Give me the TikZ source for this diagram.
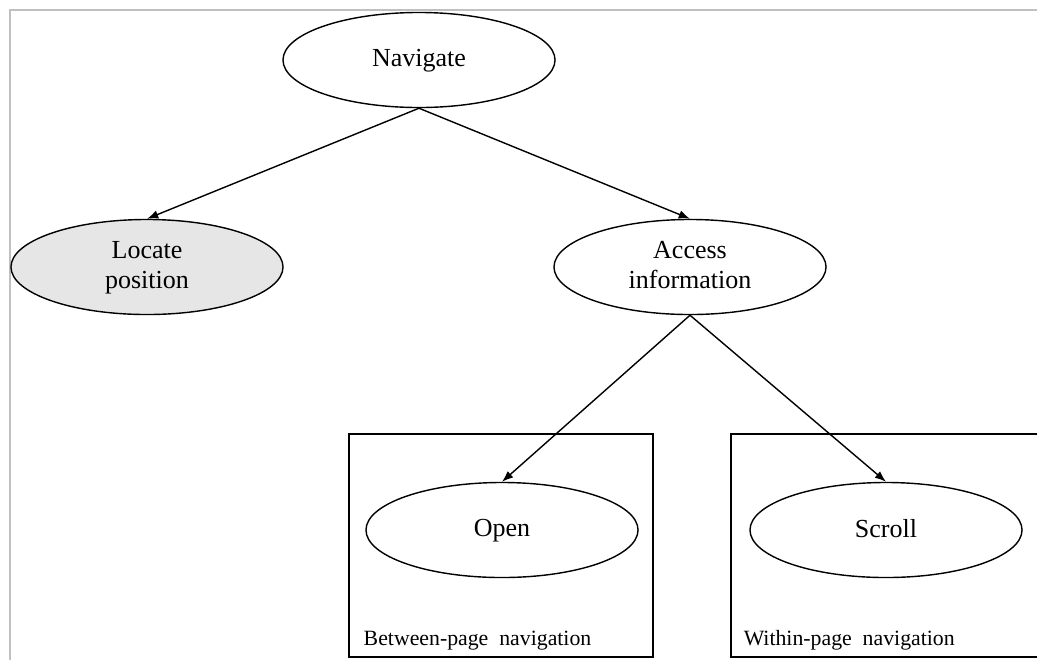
\documentclass[tikz,border=0pt]{standalone}
\usepackage{fontspec}
\setmainfont{Liberation Serif}
\usepackage{tikz}
\usetikzlibrary{shapes.geometric, arrows.meta, positioning}
\usepackage{xcolor}
\definecolor{cShade}{RGB}{230,230,230}
\definecolor{cFrame}{RGB}{192,192,192}
\tikzset{
  taskbase/.style={ellipse, draw=black, line width=1pt, align=center,
                   font=\fontsize{18.5}{21.5}\selectfont, text depth=0.25em,
                   minimum width=6.8cm, minimum height=2.375cm, inner sep=0pt},
  tasknode/.style={taskbase, fill=white},
  shadenode/.style={taskbase, fill=cShade},
  groupbox/.style={rectangle, draw=black, line width=1pt, inner sep=0pt},
  grouplabel/.style={inner sep=0pt, font=\fontsize{15.5}{18}\selectfont},
  arrow/.style={-{Latex[length=8pt, width=6pt]}, line width=1pt, color=black}
}

\begin{document}
\begin{tikzpicture}[x=0.025cm, y=-0.025cm]

  % Frame
  \useasboundingbox (0,0) rectangle (1037,660);
  \draw[cFrame, line width=1pt] (10,660) -- (10,10) -- (1037,10);

  % Groups
  \node[groupbox, minimum width=7.6cm, minimum height=5.575cm] (between) at (501,545.5) {};
  \node[groupbox, minimum width=7.75cm, minimum height=5.575cm] (within) at (886,545.5) {};
  \node[grouplabel, above right=0.17cm and 0.38cm of between.south west, anchor=south west]
      (betweenlbl) {Between-page\ \ navigation};
  \node[grouplabel, above right=0.17cm and 0.33cm of within.south west, anchor=south west]
      (withinlbl) {Within-page\ \ navigation};

  % Tasks
  \node[tasknode] (nav) at (419,60) {Navigate};
  \node[shadenode] (locate) at (147,267) {Locate\\position};
  \node[tasknode] (access) at (690,267) {Access\\information};
  \node[tasknode] (open) at (502,530) {Open};
  \node[tasknode] (scroll) at (886,530) {Scroll};

  % Arrows
  \draw[arrow] (nav.south) -- (locate.north);
  \draw[arrow] (nav.south) -- (access.north);
  \draw[arrow] (access.south) -- (open.north);
  \draw[arrow] (access.south) -- (scroll.north);

\end{tikzpicture}
\end{document}
